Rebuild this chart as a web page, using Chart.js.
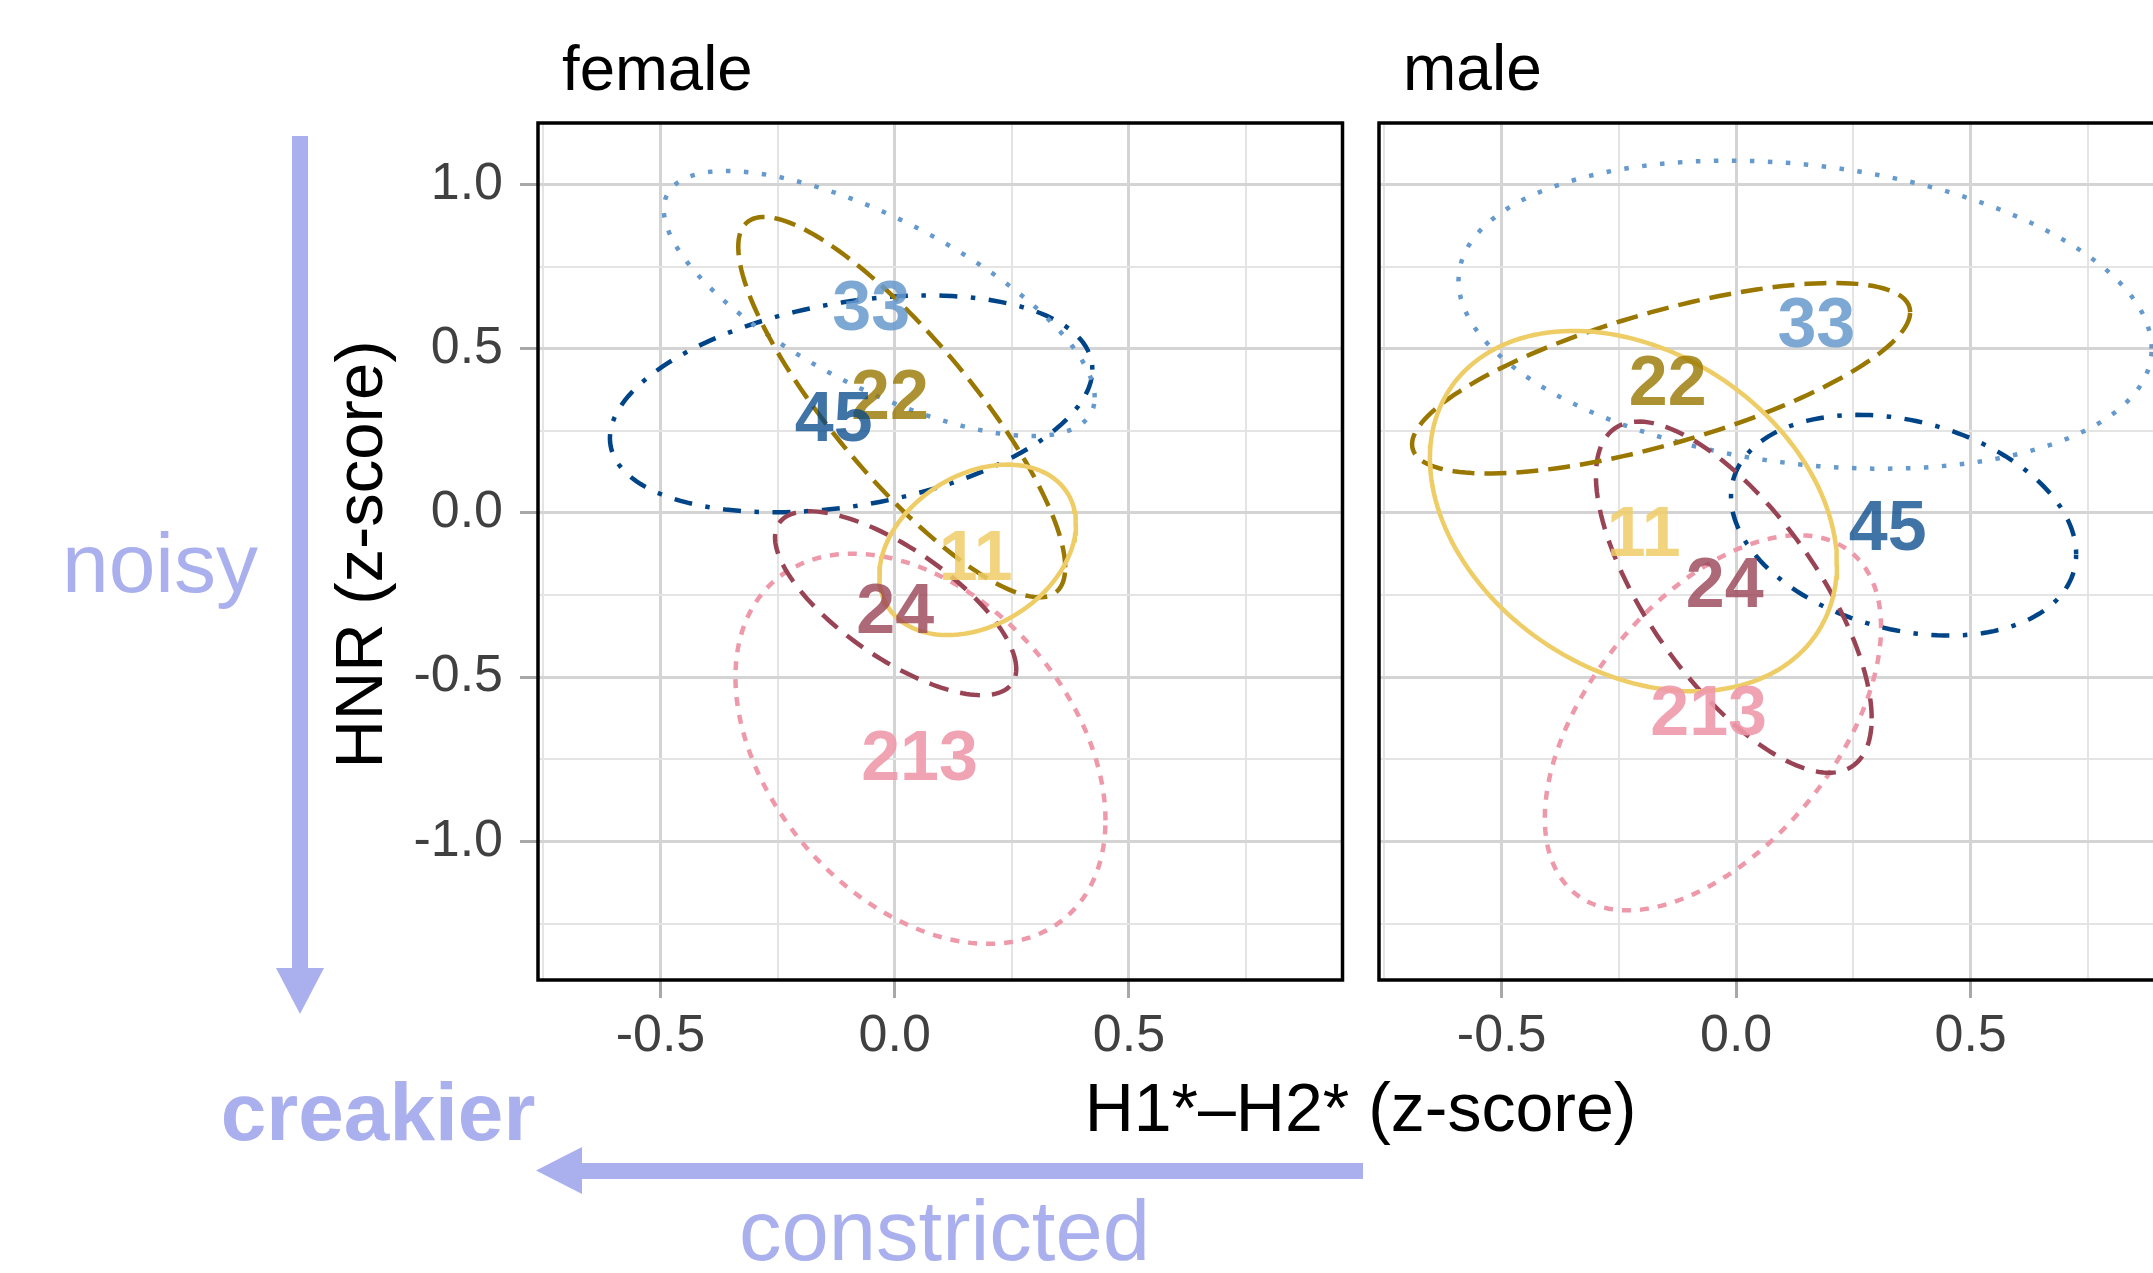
<!DOCTYPE html>
<html lang="en">
<head>
<meta charset="UTF-8">
<title>HNR by H1*-H2* - ellipses per group</title>
<script src="https://cdn.jsdelivr.net/npm/chart.js@4"></script>
<style>
  html, body { margin: 0; padding: 0; background: #fff; overflow: hidden; }
  body { position: relative; width: 2153px; height: 1273px; font-family: "Liberation Sans", Arial, sans-serif; }
  canvas, .txt, svg { position: absolute; }
  .txt { line-height: 1; white-space: nowrap; }
  .accent { color: #aab0ee; }
</style>
</head>
<body>
  <!-- annotation arrows -->
  <svg width="2153" height="1273" style="left:0;top:0;">
    <rect x="292" y="136" width="16" height="834" fill="#aab0ee"/>
    <polygon points="276,968 324,968 300,1014" fill="#aab0ee"/>
    <rect x="580" y="1163" width="783" height="16" fill="#aab0ee"/>
    <polygon points="582,1147 582,1194 536,1170.5" fill="#aab0ee"/>
  </svg>

  <div class="txt" style="left:562px; top:36.5px; font-size:63.5px;">female</div>
  <div class="txt" style="left:1403px; top:36px; font-size:64px;">male</div>

  <div class="txt accent" style="left:-140px; width:600px; text-align:center; top:520.6px; font-size:84px;">noisy</div>
  <div class="txt accent" style="left:78px; width:600px; text-align:center; top:1070.6px; font-size:82px; font-weight:bold;">creakier</div>
  <div class="txt accent" style="left:644.5px; width:600px; text-align:center; top:1188px; font-size:85px;">constricted</div>

  <div class="txt" style="left:1060.5px; width:600px; text-align:center; top:1072.5px; font-size:68px;">H1*–H2* (z-score)</div>
  <div class="txt" style="left:58px; width:600px; text-align:center; top:521px; font-size:67px; transform:rotate(-90deg);">HNR (z-score)</div>

  <canvas id="female" width="960" height="1000" style="left:400px; top:100px;"></canvas>
  <canvas id="male" width="840" height="1000" style="left:1370px; top:100px;"></canvas>

  <script>
    const groups = ['11', '22', '24', '33', '45', '213'];

    // ellipse per group: centre, half width, half height, and the x where it reaches its top
    const femaleCx   = [0.177, 0.015, 0.002, -0.033, -0.093, 0.055];
    const femaleCy   = [-0.1125, 0.322, -0.275, 0.6375, 0.332, -0.718];
    const femaleRx   = [0.21, 0.349, 0.2575, 0.46, 0.515, 0.395];
    const femaleRy   = [0.2595, 0.579, 0.28, 0.4035, 0.33, 0.594];
    const femaleTopX = [0.241, -0.279, -0.182, -0.359, 0.07, -0.09];

    const maleCx   = [-0.219, -0.16, -0.005, 0.147, 0.357, -0.0495];
    const maleCy   = [0.0055, 0.41, -0.2565, 0.6035, -0.0375, -0.639];
    const maleRx   = [0.434, 0.531, 0.294, 0.739, 0.368, 0.3585];
    const maleRy   = [0.5485, 0.29, 0.5345, 0.469, 0.336, 0.571];
    const maleTopX = [-0.3465, 0.208, -0.208, -0.016, 0.261, 0.133];

    // group label positions
    const femaleLabelX = [0.173, -0.01, 0.001, -0.05, -0.13, 0.053];
    const femaleLabelY = [-0.124, 0.365, -0.285, 0.636, 0.299, -0.735];
    const maleLabelX = [-0.197, -0.146, -0.0245, 0.171, 0.323, -0.0586];
    const maleLabelY = [-0.051, 0.409, -0.208, 0.583, -0.033, -0.596];

    const xTicks = [-0.75, -0.5, -0.25, 0, 0.25, 0.5, 0.75];
    const yTicks = [-1.25, -1, -0.75, -0.5, -0.25, 0, 0.25, 0.5, 0.75, 1];
    const xRange = [-0.7615, 0.956];
    const yRange = [-1.422, 1.187];

    const lineColors  = ['#EECC66', '#997700', '#994455', '#6699CC', '#004488', '#EE99AA'];
    const labelColors = ['rgba(238,204,102,0.85)', 'rgba(153,119,0,0.8)', 'rgba(153,68,85,0.8)',
                         'rgba(102,153,204,0.85)', 'rgba(0,68,136,0.75)', 'rgba(238,153,170,0.9)'];
    const dashes = [[], [22, 10], [20, 12], [4.5, 13.5], [4.5, 13.5, 18, 13.5], [9, 9]];

    const FONT = '"Liberation Sans", Arial, sans-serif';
    Chart.defaults.font.family = FONT;

    function ellipse(cx, cy, rx, ry, topX) {
      const phi = Math.acos(Math.max(-1, Math.min(1, (topX - cx) / rx)));
      const pts = [];
      for (let i = 0; i <= 160; i++) {
        const t = i / 160 * 2 * Math.PI;
        pts.push({ x: cx + rx * Math.cos(t), y: cy + ry * Math.cos(t - phi) });
      }
      return pts;
    }

    const isMajor = v => Math.abs(v * 2 - Math.round(v * 2)) < 1e-9;

    // no extra room for half-labels at the ends, the panel is placed by hand
    function noPadding(s) {
      s.paddingTop = 0; s.paddingBottom = 0; s.paddingLeft = 0; s.paddingRight = 0;
    }

    const panelPlugin = {
      id: 'panelExtras',
      afterDatasetsDraw(chart, args, opts) {
        const { ctx, chartArea: a } = chart;
        const x = chart.scales.x, y = chart.scales.y;
        ctx.save();
        ctx.font = 'bold 70px ' + FONT;
        ctx.textAlign = 'center';
        ctx.textBaseline = 'alphabetic';
        opts.xs.forEach((lx, i) => {
          ctx.fillStyle = labelColors[i];
          // digits are centred on the point: baseline sits half a cap height below it
          ctx.fillText(groups[i], x.getPixelForValue(lx), y.getPixelForValue(opts.ys[i]) + 26);
        });
        ctx.strokeStyle = '#000';
        ctx.lineWidth = 3.5;
        ctx.strokeRect(a.left, a.top, a.right - a.left, a.bottom - a.top);
        ctx.restore();
      }
    };

    function makeChart(id, cx, cy, rx, ry, topX, labX, labY, isLeft) {
      const datasets = groups.map((g, i) => ({
        label: g,
        data: ellipse(cx[i], cy[i], rx[i], ry[i], topX[i]),
        showLine: true,
        borderColor: lineColors[i],
        borderWidth: 4.5,
        borderDash: dashes[i],
        borderCapStyle: 'butt',
        pointRadius: 0,
        tension: 0,
        fill: false
      }));

      new Chart(document.getElementById(id), {
        type: 'scatter',
        data: { datasets },
        options: {
          responsive: false,
          animation: false,
          layout: { padding: { top: 23, right: isLeft ? 17.5 : 25.5, left: 0, bottom: 0 } },
          plugins: {
            legend: { display: false },
            tooltip: { enabled: false },
            panelExtras: { xs: labX, ys: labY }
          },
          scales: {
            x: {
              type: 'linear',
              min: xRange[0],
              max: xRange[1],
              afterBuildTicks: s => { s.ticks = xTicks.map(v => ({ value: v })); },
              afterFit: s => { s.height = 120; noPadding(s); },
              border: { display: false },
              grid: {
                color: c => c.tick && isMajor(c.tick.value) ? '#d4d4d4' : '#e4e4e4',
                lineWidth: c => c.tick && isMajor(c.tick.value) ? 3 : 2,
                tickLength: 18,
                tickWidth: 3,
                tickColor: c => c.tick && isMajor(c.tick.value) ? '#a8a8a8' : 'rgba(0,0,0,0)'
              },
              ticks: {
                autoSkip: false,
                maxRotation: 0,
                padding: 7,
                color: '#404040',
                font: { size: 52 },
                callback: v => isMajor(v) ? v.toFixed(1) : ''
              }
            },
            y: {
              type: 'linear',
              min: yRange[0],
              max: yRange[1],
              afterBuildTicks: s => { s.ticks = yTicks.map(v => ({ value: v })); },
              afterFit: s => { s.width = isLeft ? 138 : 9; noPadding(s); },
              border: { display: false },
              grid: {
                color: c => c.tick && isMajor(c.tick.value) ? '#d4d4d4' : '#e4e4e4',
                lineWidth: c => c.tick && isMajor(c.tick.value) ? 3 : 2,
                drawTicks: isLeft,
                tickLength: isLeft ? 18 : 0,
                tickWidth: 3,
                tickColor: c => c.tick && isMajor(c.tick.value) ? '#a8a8a8' : 'rgba(0,0,0,0)'
              },
              ticks: {
                display: isLeft,
                autoSkip: false,
                padding: 17,
                color: '#404040',
                font: { size: 52 },
                callback: v => isMajor(v) ? v.toFixed(1) : ''
              }
            }
          }
        },
        plugins: [panelPlugin]
      });
    }

    makeChart('female', femaleCx, femaleCy, femaleRx, femaleRy, femaleTopX, femaleLabelX, femaleLabelY, true);
    makeChart('male', maleCx, maleCy, maleRx, maleRy, maleTopX, maleLabelX, maleLabelY, false);
  </script>
</body>
</html>
